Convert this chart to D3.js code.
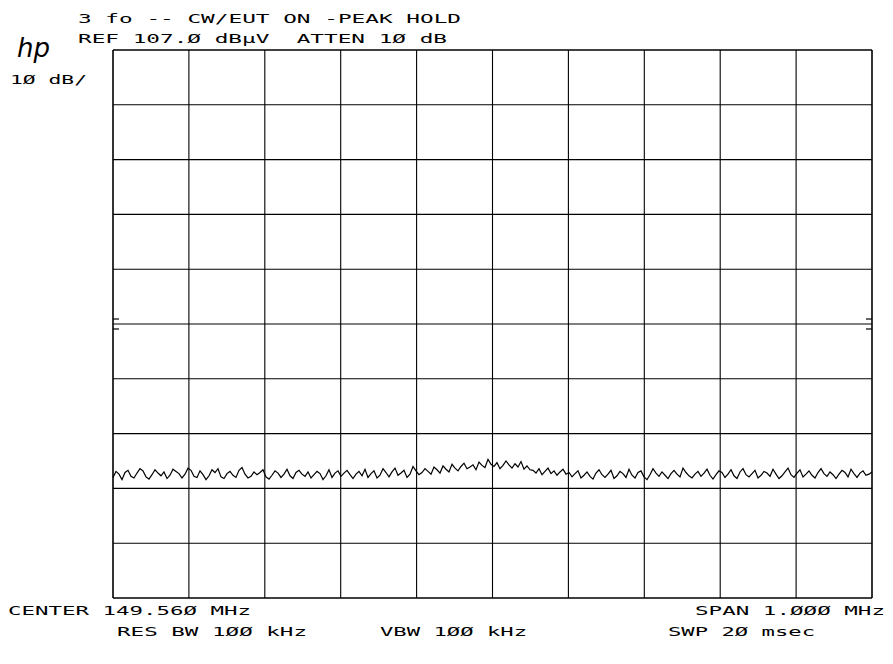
<!DOCTYPE html>
<html><head><meta charset="utf-8">
<script src="https://cdn.jsdelivr.net/npm/d3@7"></script>
<style>body{margin:0;background:#fff}svg{display:block}text{font-family:"DejaVu Sans Mono",monospace;fill:#000;white-space:pre}</style>
</head><body>
<script>
const refLevel = 107.0, dbPerDiv = 10, divisions = 10;
const centerMHz = 149.560, spanMHz = 1.000;
const hGrid = d3.range(0, 11);
const vGrid = d3.range(0, 11);
const trace = [
29.0,30.1,29.6,28.6,29.9,30.3,29.2,28.9,29.8,30.6,
30.2,29.1,28.7,29.5,30.4,29.8,29.3,30.0,28.8,29.4,
30.5,30.1,29.7,28.9,29.6,30.7,30.3,29.2,29.0,30.2,
29.5,28.6,29.3,30.4,29.9,30.6,29.1,28.8,29.7,30.1,
29.4,29.0,30.3,30.8,29.6,28.9,29.2,30.0,29.5,29.9,
30.4,29.1,28.7,29.4,30.2,29.8,29.0,29.6,30.5,29.3,
28.8,29.9,30.3,29.6,29.2,30.0,28.9,29.5,30.1,29.7,
28.6,29.3,30.4,29.0,29.8,30.2,
29.2,29.8,30.3,29.5,28.8,29.6,30.1,29.3,30.5,29.0,29.7,30.2,28.9,29.4,30.6,29.9,29.1,30.0,30.7,29.4,29.8,30.3,29.0,29.6,31.0,30.2,29.5,
29.9,30.6,30.1,29.6,30.9,30.4,29.8,31.1,30.5,30.0,31.4,30.7,30.2,31.0,31.6,30.6,30.9,31.3,30.4,31.8,31.2,30.8,32.3,31.4,31.0,31.7,30.6,31.2,32.0,31.3,30.7,31.5,30.9,31.9,30.5,31.1,30.4,
30.3,29.8,30.6,29.5,30.1,30.7,29.7,30.2,29.4,30.0,30.5,29.6,29.9,
29.1,29.7,30.2,28.9,29.4,30.0,29.2,28.7,29.8,30.4,29.5,29.0,29.6,30.3,28.8,29.3,30.1,29.7,29.0,30.5,
29.4,28.9,29.9,30.2,29.1,28.6,29.5,30.6,29.8,29.2,30.0,29.4,28.8,29.7,30.3,29.6,29.1,30.7,29.9,29.3,
28.9,29.6,30.1,29.2,29.8,30.5,29.4,28.7,29.5,30.2,29.9,29.0,29.6,30.4,29.3,28.8,30.0,30.6,29.5,29.1,
29.7,30.3,28.9,29.4,30.1,29.8,29.2,30.5,29.6,28.8,29.3,30.0,30.7,29.5,29.0,29.8,30.4,29.1,29.6,30.2,
29.4,28.9,29.9,30.6,29.7,29.2,30.0,29.5,28.8,29.6,30.3,29.9,29.1,30.5,29.7,29.0,29.8,30.2,29.4,29.6,30.0
];
const headerLines = ["3 fo -- CW/EUT ON -PEAK HOLD", "REF 107.\u00D8 dB\u00B5V  ATTEN 1\u00D8 dB"];
const scaleLabel = "1\u00D8 dB/";
const footer = [
  {t:"CENTER 149.56\u00D8 MHz", x:8, y:615, w:243},
  {t:"SPAN 1.\u00D8\u00D8\u00D8 MHz", x:695, y:615, w:190},
  {t:"RES BW 1\u00D8\u00D8 kHz", x:117, y:636, w:190},
  {t:"VBW 1\u00D8\u00D8 kHz", x:380, y:636, w:147},
  {t:"SWP 2\u00D8 msec", x:668, y:636, w:147}
];

const W = 893, H = 664;
const L = 113, R = 872, T = 50, B = 598;
const svg = d3.select("body").append("svg").attr("width", W).attr("height", H);

const x = d3.scaleLinear().domain([centerMHz - spanMHz/2, centerMHz + spanMHz/2]).range([L, R]);
const y = d3.scaleLinear().domain([refLevel - dbPerDiv*divisions, refLevel]).range([B, T]);
const idx = d3.scaleLinear().domain([0, trace.length - 1]).range(x.domain());

const g = svg.append("g");
g.selectAll("line.v").data(vGrid).join("line")
  .attr("x1", d => x(x.domain()[0] + d*spanMHz/10)).attr("x2", d => x(x.domain()[0] + d*spanMHz/10))
  .attr("y1", T).attr("y2", B).attr("stroke", "#000").attr("stroke-width", d => (d===0||d===10)?1.6:1.1);
g.selectAll("line.h").data(hGrid).join("line")
  .attr("x1", L).attr("x2", R)
  .attr("y1", d => y(refLevel - d*dbPerDiv)).attr("y2", d => y(refLevel - d*dbPerDiv))
  .attr("stroke", "#000").attr("stroke-width", d => (d===0||d===10)?1.6:1.1);

const midY = y(refLevel - 5*dbPerDiv);
[[L, L+6],[R-6, R]].forEach(([a,b]) => {
  [-5, 5].forEach(o => g.append("line").attr("x1", a).attr("x2", b).attr("y1", midY+o).attr("y2", midY+o).attr("stroke","#000").attr("stroke-width",1.2));
});

const line = d3.line().x((d,i) => x(idx(i))).y(d => y(d)).curve(d3.curveLinear);
g.append("path").datum(trace).attr("d", line).attr("fill","none").attr("stroke","#000").attr("stroke-width",1.2);

function stretch(t, xx, yy, w, fs) {
  svg.append("text").attr("x", xx).attr("y", yy).attr("font-size", fs)
    .attr("xml:space","preserve")
    .attr("textLength", w).attr("lengthAdjust", "spacingAndGlyphs").text(t);
}
stretch(headerLines[0], 78, 23, 383, 13);
stretch(headerLines[1], 78, 43, 369, 13);
stretch(scaleLabel, 10, 84, 77, 13);
footer.forEach(f => stretch(f.t, f.x, f.y, f.w, 13));

// hp logo
svg.append("text").attr("x", 17).attr("y", 57).attr("font-size", 26).attr("font-style","italic")
  .style("font-family","'DejaVu Sans',sans-serif").style("font-weight","200").text("hp");
</script>
</body></html>
